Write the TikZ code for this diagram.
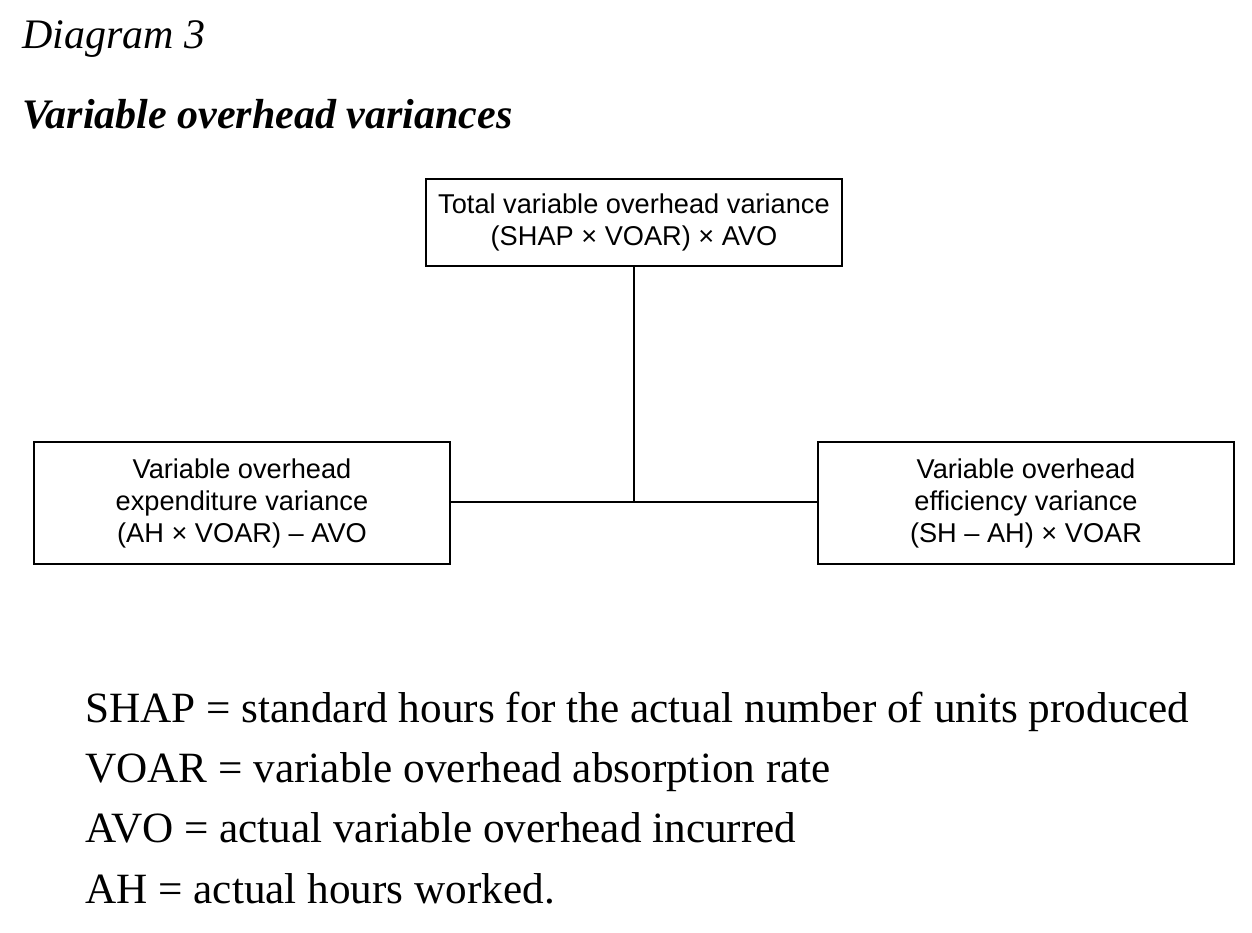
\documentclass[tikz,border=0pt]{standalone}
\usepackage{fontspec}
\setmainfont{Liberation Serif}
\newfontfamily\boxfont{Liberation Sans}
\begin{document}
\begin{tikzpicture}[x=0.5pt,y=-0.5pt,
  vbox/.style={draw=black,line width=1pt,minimum width=208pt,align=center,inner sep=0pt,
    font=\boxfont\fontsize{13.6pt}{16pt}\selectfont},
  conn/.style={line width=1pt},
  ttl/.style={anchor=base west,inner sep=0pt,font=\fontsize{21pt}{24pt}\selectfont\itshape},
  leg/.style={anchor=base west,inner sep=0pt,font=\fontsize{21.6pt}{24pt}\selectfont}]
\useasboundingbox (0,0) rectangle (1252,932);
\node[ttl] (t1) at (22,48) {Diagram 3};
\node[ttl,font=\fontsize{21pt}{24pt}\selectfont\bfseries\itshape] (t2) at (22,128) {Variable overhead variances};
\node[vbox,minimum height=43.5pt] (top) at (634,222.5) {Total variable overhead variance\\(SHAP × VOAR) × AVO};
\node[vbox,minimum height=61pt] (left) at (242,503) {Variable overhead\\expenditure variance\\(AH × VOAR) – AVO};
\node[vbox,minimum height=61pt] (right) at (1026,503) {Variable overhead\\efficiency variance\\(SH – AH) × VOAR};
\coordinate (j) at (634,502);
\draw[conn] (top.south) -- (j);
\draw[conn] (left.east |- j) -- (right.west |- j);
\node[leg] (l1) at (85,722) {SHAP = standard hours for the actual number of units produced};
\node[leg] (l2) at (85,782) {VOAR = variable overhead absorption rate};
\node[leg] (l3) at (85,842) {AVO = actual variable overhead incurred};
\node[leg] (l4) at (85,903) {AH = actual hours worked.};
\end{tikzpicture}
\end{document}
